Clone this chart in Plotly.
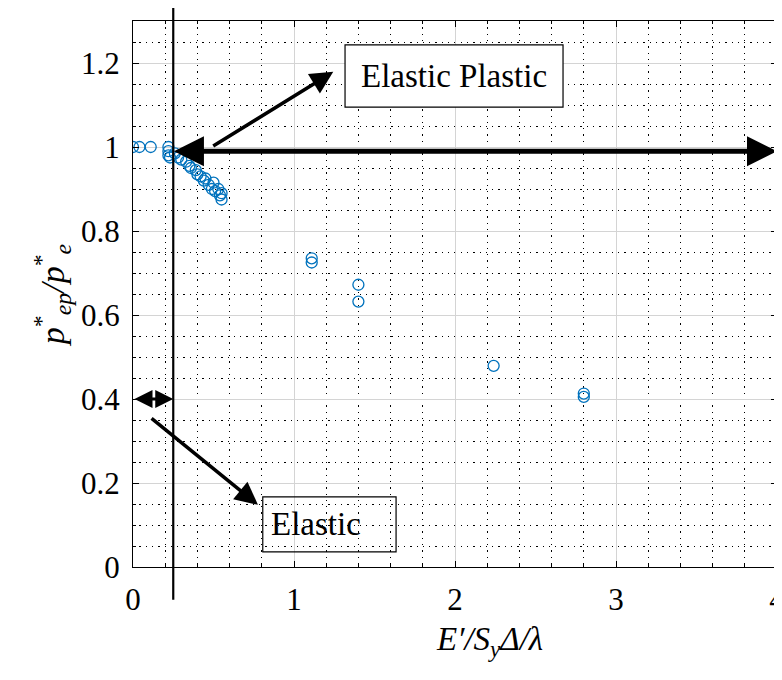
import plotly.graph_objects as go

# ---- data ----
x_vals = [0.0, 0.04, 0.11,
          0.22, 0.22, 0.22, 0.23, 0.26, 0.28, 0.30, 0.33, 0.35, 0.36, 0.39,
          0.40, 0.42, 0.44, 0.45, 0.47, 0.49, 0.50, 0.51, 0.53, 0.54, 0.55, 0.55,
          1.11, 1.11, 1.40, 1.40, 2.24, 2.80, 2.80]
y_vals = [1.0, 1.0, 1.0,
          1.0, 0.99, 0.98, 0.975, 0.985, 0.975, 0.97, 0.965, 0.955, 0.95, 0.945,
          0.935, 0.93, 0.92, 0.925, 0.91, 0.90, 0.915, 0.895, 0.90, 0.885, 0.89, 0.875,
          0.735, 0.725, 0.672, 0.632, 0.479, 0.413, 0.405]

x_range = [0, 4]
y_range = [0, 1.3]
x_ticks = [0, 1, 2, 3, 4]
y_ticks = [0, 0.2, 0.4, 0.6, 0.8, 1.0, 1.2]
y_ticktext = ["0", "0.2", "0.4", "0.6", "0.8", "1", "1.2"]

boundary_x = 0.25          # elastic / elastic-plastic boundary
elastic_box = [0.806, 1.634, 0.036, 0.167]
ep_box = [1.317, 2.671, 1.095, 1.243]

FONT = "Liberation Serif"

fig = go.Figure()
fig.add_trace(go.Scatter(
    x=x_vals, y=y_vals, mode="markers",
    marker=dict(symbol="circle-open", size=11, color="#0072BD",
                line=dict(width=1.3, color="#0072BD")),
    showlegend=False))

axis_common = dict(
    showline=True, linecolor="black", linewidth=1.2, mirror="allticks",
    ticks="inside", ticklen=6, tickcolor="black", tickwidth=1,
    showgrid=True, gridcolor="#d4d4d4", gridwidth=1,
    zeroline=False, automargin=False, ticklabeloverflow="allow",
    tickfont=dict(family=FONT, size=31, color="black"),
)

fig.update_xaxes(
    range=x_range, tickvals=x_ticks, **axis_common,
    minor=dict(dtick=0.2, showgrid=True, gridcolor="black", gridwidth=1,
               griddash="1.3px,5px", ticks="inside", ticklen=3, tickcolor="black"),
    ticklabelstandoff=5,
)
fig.update_yaxes(
    range=y_range, tickvals=y_ticks, ticktext=y_ticktext, **axis_common,
    minor=dict(dtick=0.05, showgrid=True, gridcolor="black", gridwidth=1,
               griddash="1.3px,5px", ticks="inside", ticklen=3, tickcolor="black"),
    title=dict(text="<i>p</i><sup>*</sup><sub><i>ep</i></sub><i>/p</i><sup>*</sup><sub><i>e</i></sub>",
               font=dict(family=FONT, size=34, color="black"), standoff=6),
    ticklabelstandoff=6,
)

# x-axis title (placed slightly right of centre, as in the reference)
fig.add_annotation(xref="paper", yref="paper", x=0.554, y=-0.137,
                   xanchor="center", yanchor="middle", showarrow=False,
                   text="<i>E′/S<sub>y</sub>Δ/λ</i>",
                   font=dict(family=FONT, size=33, color="black"))

def to_paper_x(v):
    return (v - x_range[0]) / (x_range[1] - x_range[0])

# vertical boundary line extending beyond the axes
fig.add_shape(type="line", xref="paper", yref="paper",
              x0=to_paper_x(boundary_x), x1=to_paper_x(boundary_x),
              y0=1.0275, y1=-0.06,
              line=dict(color="black", width=2.2), layer="above")

# boxes
fig.add_shape(type="rect", xref="x", yref="y",
              x0=ep_box[0], x1=ep_box[1], y0=ep_box[2], y1=ep_box[3],
              line=dict(color="black", width=1.2), fillcolor="white", layer="above")
fig.add_shape(type="rect", xref="x", yref="y",
              x0=elastic_box[0], x1=elastic_box[1], y0=elastic_box[2], y1=elastic_box[3],
              line=dict(color="black", width=1.2), fillcolor="rgba(0,0,0,0)", layer="above")

fig.add_annotation(x=(ep_box[0] + ep_box[1]) / 2, y=(ep_box[2] + ep_box[3]) / 2,
                   text="Elastic Plastic", showarrow=False,
                   font=dict(family=FONT, size=33, color="black"))
fig.add_annotation(x=elastic_box[0] + 0.33, y=(elastic_box[2] + elastic_box[3]) / 2,
                   text="Elastic", showarrow=False,
                   font=dict(family=FONT, size=33, color="black"))

arrow_common = dict(text="", showarrow=True, axref="x", ayref="y",
                    arrowcolor="black", standoff=0, startstandoff=0)

# long horizontal double arrow
fig.add_annotation(x=4.0, y=0.99, ax=0.245, ay=0.99, arrowside="end+start",
                   arrowhead=2, startarrowhead=2, arrowwidth=5,
                   arrowsize=1.2, startarrowsize=1.2, **arrow_common)
# arrow to Elastic Plastic box
fig.add_annotation(x=1.244, y=1.179, ax=0.489, ay=1.0, arrowhead=2,
                   arrowwidth=3.5, arrowsize=1.3, **arrow_common)
# small double arrow at y=0.4
fig.add_annotation(x=boundary_x, y=0.4, ax=0.0, ay=0.4, arrowside="end+start",
                   arrowhead=2, startarrowhead=2, arrowwidth=3,
                   arrowsize=1.2, startarrowsize=1.2, **arrow_common)
# arrow to Elastic box
fig.add_annotation(x=0.776, y=0.148, ax=0.106, ay=0.357, arrowhead=2,
                   arrowwidth=3.5, arrowsize=1.3, **arrow_common)

# page body has an 8px margin; shrink figure so the plot lands at the same place
fig.update_layout(
    width=774, height=672,
    margin=dict(l=125, r=5, t=13, b=113),
    plot_bgcolor="white", paper_bgcolor="white",
    font=dict(family=FONT, color="black"),
    showlegend=False,
)

fig.write_html("out.html")
